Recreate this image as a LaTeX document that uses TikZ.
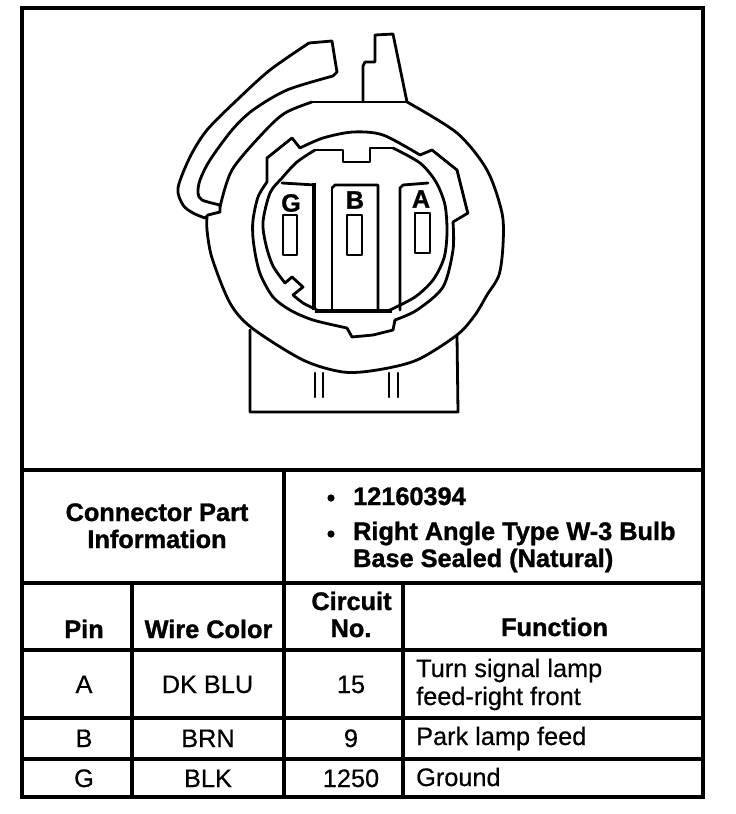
\documentclass[tikz,border=0pt]{standalone}
\usepackage{fontspec}
\setmainfont[FakeBold=0.5,BoldFeatures={FakeBold=1.2}]{Liberation Sans}
\tikzset{
  line/.style={draw=black,line width=2.8pt,line join=round,line cap=round},
  thin line/.style={draw=black,line width=2.2pt,line join=round,line cap=round},
  rule/.style={draw=black,line width=3.4pt,line cap=rect},
  head/.style={font=\fontsize{25.3}{28}\selectfont\bfseries,anchor=base,inner sep=0pt},
  bodytext/.style={font=\fontsize{25.3}{28}\selectfont,anchor=base,inner sep=0pt},
  lefttext/.style={font=\fontsize{25.3}{28}\selectfont,anchor=base west,inner sep=0pt},
  info/.style={font=\fontsize{25.3}{28}\selectfont\bfseries,anchor=base west,inner sep=0pt},
  pinlabel/.style={font=\fontsize{25}{28}\selectfont\bfseries,inner sep=0pt},
}
\begin{document}
\begin{tikzpicture}[x=1pt,y=-1pt]
\useasboundingbox (0,0) rectangle (736,814);
\fill[white] (0,0) rectangle (736,814);
% table rules
\draw[rule] (22,8) rectangle (703,797);
\draw[rule] (22,470) -- (703,470);
\draw[rule] (22,583) -- (703,583);
\draw[rule] (22,650) -- (703,650);
\draw[rule] (22,718) -- (703,718);
\draw[rule] (22,759) -- (703,759);
\draw[rule] (132,583) -- (132,797);
\draw[rule] (284,470) -- (284,797);
\draw[rule] (403,583) -- (403,797);
% latch
\draw[line] plot[smooth,tension=0.5] coordinates {(309,43)(270,70)(237,100)(207,130)(190,157)(178,188)(183,205)(193,213)(205,218)};
\draw[line] (309,43) -- (332,41) -- (335,60) -- (337,72) -- (333,76);
\draw[line] plot[smooth,tension=0.5] coordinates {(333,76)(287,90)(253,110)(232,130)(210,160)(200,180)(198,193)(202,200)(220,205)};
\draw[line] (220,205) -- (220,212) -- (208,215) -- (205,218);
% top tab
\draw[line] (363,102) -- (363,66) -- (365,62) -- (375,62) -- (375,35) -- (393,34) -- (407,102);
% body outline
\draw[line] (312,102) -- (407,102);
\draw[line] plot[smooth,tension=0.5] coordinates {(220,207)(232,170)(263,133)(285,113)(312,102)};
\draw[line] plot[smooth,tension=0.5] coordinates {(407,102)(457,133)(487,170)(502,213)(503,245)(499,275)(487,295)(475,315)(457,335)(417,360)(377,370)(343,372)(303,360)(252,328)(230,303)(212,258)(207,230)(207,217)};
% key ring
\draw[line] (267,182) -- (267,158) -- (292,138) -- (300,148);
\draw[line] plot[smooth,tension=0.5] coordinates {(300,148)(323,138)(353,132)(383,135)(420,155)};
\draw[line] (420,155) -- (432,150) -- (457,170) -- (467,210) -- (468,213) -- (453,222);
\draw[line] plot[smooth,tension=0.5] coordinates {(453,222)(453,250)(443,287)(417,310)(395,320)};
\draw[line] (395,320) -- (393,330) -- (373,335) -- (352,337) -- (347,328);
\draw[line] plot[smooth,tension=0.5] coordinates {(347,328)(313,320)(290,310)(273,297)(261,276)(256,258)(253,238)(253,220)(258,197)(267,182)};
% inner circle
\draw[line] plot[smooth,tension=0.5] coordinates {(285,283)(273,266)(266,245)(263,222)(270,193)(282,178)(297,162)(315,150)};
\draw[line] (315,150) -- (343,150) -- (343,162) -- (370,162) -- (370,148) -- (393,148);
\draw[line] plot[smooth,tension=0.5] coordinates {(393,148)(420,163)(436,182)(445,205)(447,233)(444,258)(433,280)(415,297)(390,310)};
\draw[line] (285,283) -- (292,277) -- (303,287) -- (293,295);
\draw[line] plot[smooth,tension=0.4] coordinates {(293,295)(303,303)(317,310)};
% blades
\draw[line] (282,183) -- (315,185);
\draw[rule] (314,185) -- (314,308);
\draw[line] (332,188) -- (335,185) -- (378,185) -- (378,310);
\draw[line] (332,188) -- (332,310);
\draw[rule] (317,311) -- (390,311);
\draw[line] (400,310) -- (400,188) -- (403,185) -- (428,183);
% pin slots
\draw[line] (283,215) rectangle (297,255);
\draw[thin line] (347,215) rectangle (362,255);
\draw[line] (415,213) rectangle (430,253);
\node[pinlabel] (pinG) at (291,203) {G};
\node[pinlabel] (pinB) at (355,200) {B};
\node[pinlabel] (pinA) at (421,199) {A};
% lower housing
\draw[line] (250,330) -- (250,412) -- (458,412) -- (457,335);
\draw[thin line] (315,373) -- (315,397);
\draw[thin line] (323,373) -- (323,397);
\draw[thin line] (389,373) -- (389,397);
\draw[thin line] (398,373) -- (398,397);
% table text
\node[head] (part1) at (157,521) {Connector Part};
\node[head] (part2) at (157,548) {Information};
\fill (331,498) circle (3.6pt);
\fill (331,534) circle (3.6pt);
\node[info] (num) at (353,505) {12160394};
\node[info] (desc1) at (353,540) {Right Angle Type W-3 Bulb};
\node[info] (desc2) at (353,567) {Base Sealed (Natural)};
\node[head] (hpin) at (84,638) {Pin};
\node[head] (hwire) at (208.5,638) {Wire Color};
\node[head] (hcirc1) at (351.5,610) {Circuit};
\node[head] (hcirc2) at (351,637) {No.};
\node[head] (hfunc) at (554.5,636) {Function};
\node[bodytext] (pa) at (84,693) {A};
\node[bodytext] (wa) at (207.5,693) {DK BLU};
\node[bodytext] (ca) at (351,693) {15};
\node[lefttext] (fa1) at (416,677) {Turn signal lamp};
\node[lefttext] (fa2) at (416,705) {feed-right front};
\node[bodytext] (pb) at (84,747) {B};
\node[bodytext] (wb) at (208,747) {BRN};
\node[bodytext] (cb) at (351,747) {9};
\node[lefttext] (fb) at (416,745) {Park lamp feed};
\node[bodytext] (pg) at (84,787) {G};
\node[bodytext] (wg) at (208,787) {BLK};
\node[bodytext] (cg) at (351,787) {1250};
\node[lefttext] (fg) at (416,786) {Ground};
\end{tikzpicture}
\end{document}
